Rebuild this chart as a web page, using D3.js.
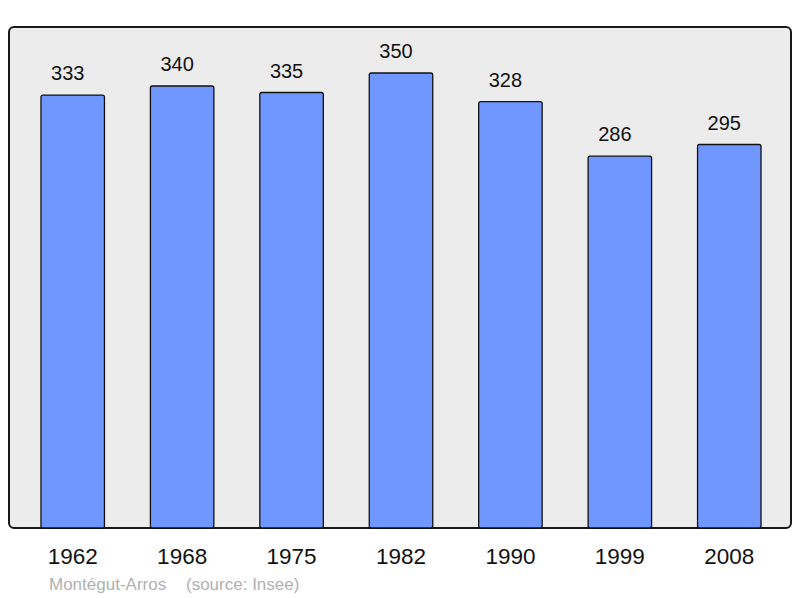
<!DOCTYPE html>
<html lang="fr">
<head>
  <meta charset="UTF-8">
  <title>Montégut-Arros population</title>
  <script src="https://d3js.org/d3.v7.min.js"></script>
  <style>
    body { margin: 0; background: #fff; }
    svg text { font-family: 'Liberation Sans', Arial, sans-serif; }
  </style>
</head>
<body>
<svg width="800" height="598"></svg>
<script>
  // Population by census year
  const years = ["1962", "1968", "1975", "1982", "1990", "1999", "2008"];
  const population = [333, 340, 335, 350, 328, 286, 295];
  const commune = "Montégut-Arros";
  const source = "(source: Insee)";

  const svg = d3.select("svg");

  // plot frame
  const frame = {left: 9, top: 27, right: 791, bottom: 528};

  svg.append("rect")
    .attr("x", frame.left)
    .attr("y", frame.top)
    .attr("width", frame.right - frame.left)
    .attr("height", frame.bottom - frame.top)
    .attr("rx", 5)
    .attr("fill", "#ececec")
    .attr("stroke", "#1a1a1a")
    .attr("stroke-width", 2);

  const x = d3.scaleBand()
    .domain(years)
    .range([18, 784])
    .paddingInner(0.42)
    .paddingOuter(0.21);

  const y = d3.scaleLinear()
    .domain([0, 385])
    .range([frame.bottom, 27.5]);

  const data = years.map((yr, i) => ({year: yr, value: population[i]}));

  // bars
  svg.append("g")
    .selectAll("rect")
    .data(data)
    .enter()
    .append("rect")
    .attr("x", d => x(d.year))
    .attr("y", d => y(d.value))
    .attr("width", x.bandwidth())
    .attr("height", d => frame.bottom - y(d.value))
    .attr("rx", 2)
    .attr("fill", "#7097ff")
    .attr("stroke", "#111")
    .attr("stroke-width", 1.3);

  // value labels (sit a little left of the bar centre, as in the original)
  svg.append("g")
    .selectAll("text")
    .data(data)
    .enter()
    .append("text")
    .attr("x", d => x(d.year) + x.bandwidth() / 2 - 5)
    .attr("y", d => y(d.value) - 15)
    .attr("text-anchor", "middle")
    .style("font-size", "20px")
    .style("fill", "#111")
    .text(d => d.value);

  // year axis (labels only)
  const axis = svg.append("g")
    .attr("transform", `translate(0, ${frame.bottom})`)
    .call(d3.axisBottom(x).tickSize(0).tickPadding(0));
  axis.select(".domain").remove();
  axis.selectAll("text")
    .attr("dy", null)
    .attr("y", 36)
    .style("font-family", "'Liberation Sans', Arial, sans-serif")
    .style("font-size", "22.5px")
    .style("fill", "#111");

  // footer
  svg.append("text")
    .attr("x", 49)
    .attr("y", 590)
    .style("font-size", "17px")
    .style("fill", "#b0b0b0")
    .text(commune);

  svg.append("text")
    .attr("x", 186)
    .attr("y", 590)
    .style("font-size", "17px")
    .style("fill", "#b0b0b0")
    .text(source);
</script>
</body>
</html>
